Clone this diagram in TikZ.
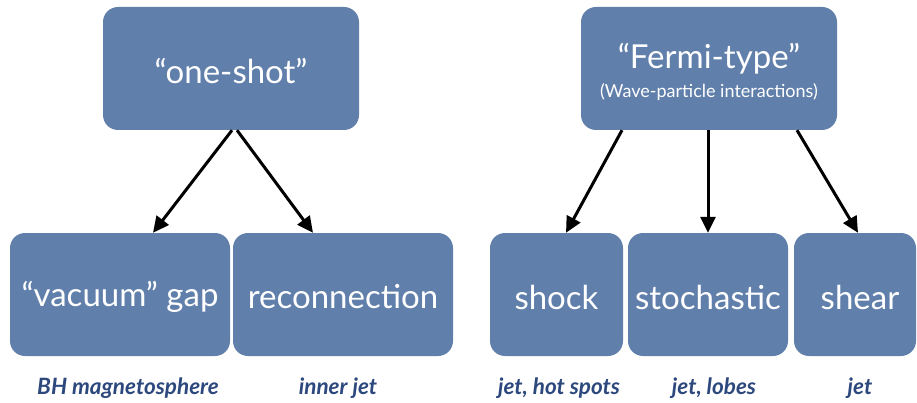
\documentclass[tikz,border=0pt]{standalone}
\usepackage{fontspec}
\setmainfont{Lato}
\usetikzlibrary{arrows.meta}
\definecolor{boxblue}{RGB}{96,127,171}
\definecolor{labelblue}{RGB}{44,72,125}
\tikzset{
  box/.style={draw=none, fill=boxblue, rounded corners=15pt, inner sep=0pt, minimum height=123pt},
  big/.style={text=white, font=\fontsize{33}{38}\selectfont, inner sep=0pt},
  small/.style={text=white, font=\fontsize{18}{22}\selectfont, inner sep=0pt},
  lab/.style={text=labelblue, font=\fontsize{22.5}{26}\selectfont\bfseries\itshape, inner sep=0pt},
  arr/.style={draw=black, line width=3pt, -{Triangle[length=16pt,width=15pt]}}
}
\begin{document}
\begin{tikzpicture}[x=1pt,y=-1pt]
\useasboundingbox (0,0) rectangle (917,403);
\clip (0,0) rectangle (917,403);
% top boxes
\node[box, minimum width=256pt] (one) at (231,68.5) {};
\node[big] (onet) at (231,71) {“one-shot”};
\node[box, minimum width=256pt] (fermi) at (709,68.5) {};
\node[big] (fermit) at (709,59) {“Fermi-type”};
\node[small] (fermis) at (709,92) {(Wave-particle interactions)};
% bottom boxes
\node[box, minimum width=220pt] (vac) at (120,294.5) {};
\node[big] (vact) at (120,297) {“vacuum” gap};
\node[box, minimum width=220pt] (rec) at (343,294.5) {};
\node[big] (rect) at (343,297) {reconnection};
\node[box, minimum width=133pt] (shock) at (556.5,294.5) {};
\node[big] (shockt) at (556.5,297) {shock};
\node[box, minimum width=160pt] (stoch) at (708,294.5) {};
\node[big] (stocht) at (708,297) {stochastic};
\node[box, minimum width=122pt] (shear) at (855,294.5) {};
\node[big] (sheart) at (860,297) {shear};
% arrows
\draw[arr] ([xshift=1pt]one.south) -- ([xshift=33pt]vac.north);
\draw[arr] ([xshift=6pt]one.south) -- ([xshift=-30pt]rec.north);
\draw[arr] ([xshift=-87pt]fermi.south) -- ([xshift=9.5pt]shock.north);
\draw[arr] ([xshift=-1pt]fermi.south) -- ([xshift=0pt]stoch.north);
\draw[arr] ([xshift=88pt]fermi.south) -- ([xshift=3pt]shear.north);
% labels
\node[lab] (l1) at (128,388) {BH magnetosphere};
\node[lab] (l2) at (338,388) {inner jet};
\node[lab] (l3) at (559,388) {jet, hot spots};
\node[lab] (l4) at (714,388) {jet, lobes};
\node[lab] (l5) at (860,388) {jet};
\end{tikzpicture}
\end{document}
